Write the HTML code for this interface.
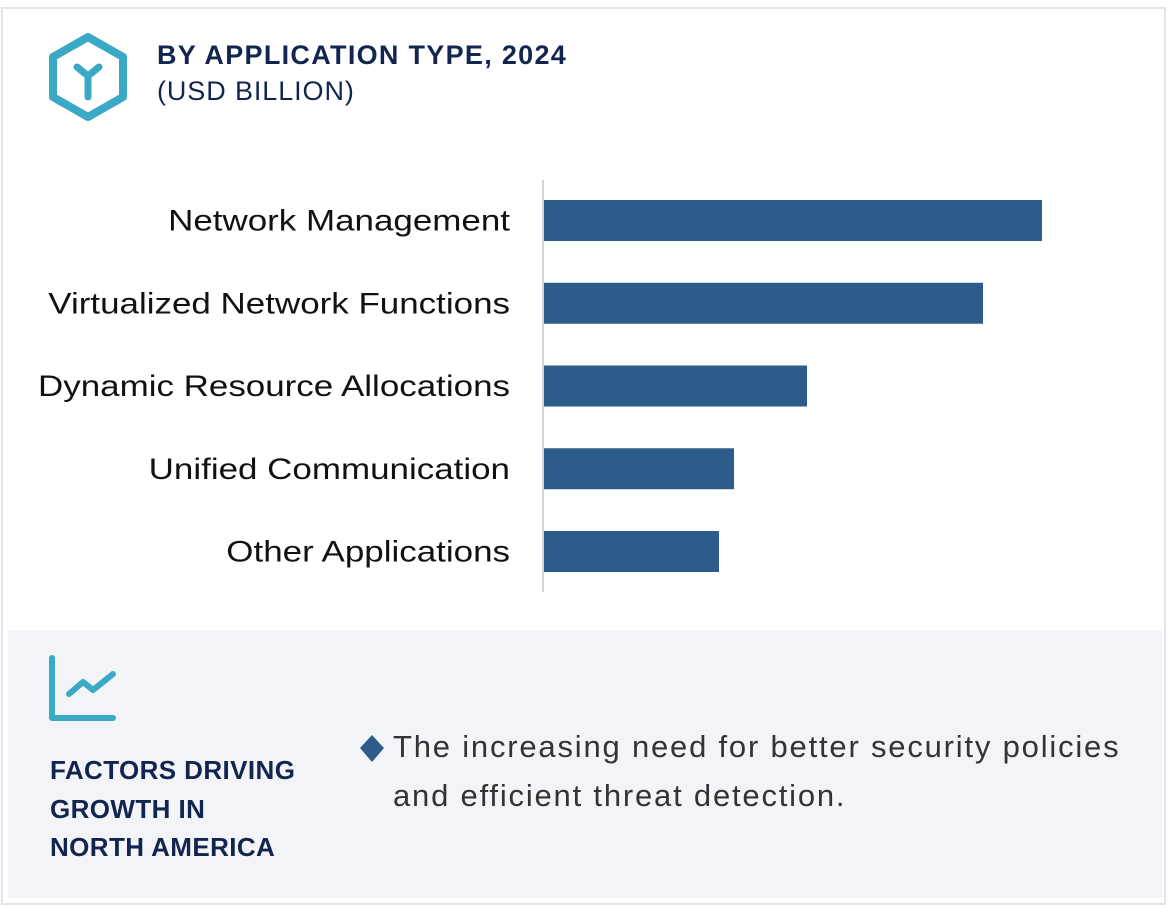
<!DOCTYPE html>
<html><head><meta charset="utf-8"><style>
body{margin:0;width:1170px;height:909px;background:#fff;font-family:"Liberation Sans",sans-serif;position:relative;overflow:hidden}
.frame{position:absolute;left:1px;top:7px;width:1165px;height:898px;border:2px solid #e3e4e8;box-sizing:border-box}
.t1{position:absolute;left:157px;top:40px;font-size:27px;font-weight:bold;color:#12254f;letter-spacing:1.3px;white-space:nowrap}
.t2{position:absolute;left:157px;top:76px;font-size:27px;color:#12254f;letter-spacing:0.9px;white-space:nowrap}
.panel{position:absolute;left:8px;top:630px;width:1154px;height:268px;background:#f3f4f8}
.ft{position:absolute;left:50px;top:751px;font-size:26px;font-weight:bold;color:#12254f;line-height:38.5px;letter-spacing:0.4px;white-space:nowrap}
.bt{position:absolute;left:393px;top:722px;font-size:31px;color:#333;line-height:49px;letter-spacing:1.8px;white-space:nowrap}
</style></head><body>
<div class="frame"></div>
<svg style="position:absolute;left:45px;top:32px" width="86" height="90">
<polygon points="43,5 78,25 78,65 43,85 8,65 8,25" fill="none" stroke="#3aa9c6" stroke-width="8" stroke-linejoin="round"/>
<path d="M32,35 L43,44 L54,35 M43,44 L43,65" fill="none" stroke="#3aa9c6" stroke-width="7" stroke-linecap="round" stroke-linejoin="round"/>
</svg>
<div class="t1">BY APPLICATION TYPE, 2024</div>
<div class="t2">(USD BILLION)</div>
<svg id="chart" style="position:absolute;left:0;top:0" width="1170" height="620"></svg>
<div class="panel"></div>
<svg style="position:absolute;left:45px;top:650px" width="75" height="75">
<path d="M7,8 L7,68 L68,68" fill="none" stroke="#3aa9c6" stroke-width="6" stroke-linecap="round" stroke-linejoin="round"/>
<path d="M24,44 L38,32 L48,40 L68,24" fill="none" stroke="#3aa9c6" stroke-width="6" stroke-linecap="round" stroke-linejoin="round"/>
</svg>
<div class="ft">FACTORS DRIVING<br>GROWTH IN<br>NORTH AMERICA</div>
<svg style="position:absolute;left:359px;top:734px" width="28" height="30"><polygon points="13,1 25,14 13,28 1,14" fill="#2d5b8a"/></svg>
<div class="bt">The increasing need for better security policies<br>and efficient threat detection.</div>
<script>
const categories=["Network Management","Virtualized Network Functions","Dynamic Resource Allocations","Unified Communication","Other Applications"];
const values=[4.98,4.39,2.63,1.90,1.75];
const svg=document.getElementById('chart');
const NS='http://www.w3.org/2000/svg';
const x0=544,scale=100,y0=200,step=82.75,bh=41;
const xs=v=>v*scale;
const ys=i=>y0+i*step;
const ax=document.createElementNS(NS,'line');
ax.setAttribute('x1',543);ax.setAttribute('x2',543);ax.setAttribute('y1',180);ax.setAttribute('y2',592);
ax.setAttribute('stroke','#d5d5d5');ax.setAttribute('stroke-width','2');


svg.appendChild(ax);
categories.forEach((c,i)=>{
 const r=document.createElementNS(NS,'rect');
 r.setAttribute('x',x0);r.setAttribute('y',ys(i));r.setAttribute('width',xs(values[i]));r.setAttribute('height',bh);r.setAttribute('fill','#2d5b8a');
 
 
 svg.appendChild(r);
 const t=document.createElementNS(NS,'text');
 t.setAttribute('x',510);t.setAttribute('y',ys(i)+bh/2+10);t.setAttribute('text-anchor','end');
 t.setAttribute('font-size','30');t.setAttribute('fill','#111');t.setAttribute('font-family','Liberation Sans, sans-serif');
 t.textContent=c;
 
 
 svg.appendChild(t);
 const w=t.getComputedTextLength();
 t.setAttribute('textLength',(w*1.165).toFixed(1));
 t.setAttribute('lengthAdjust','spacingAndGlyphs');
});
</script>
</body></html>
